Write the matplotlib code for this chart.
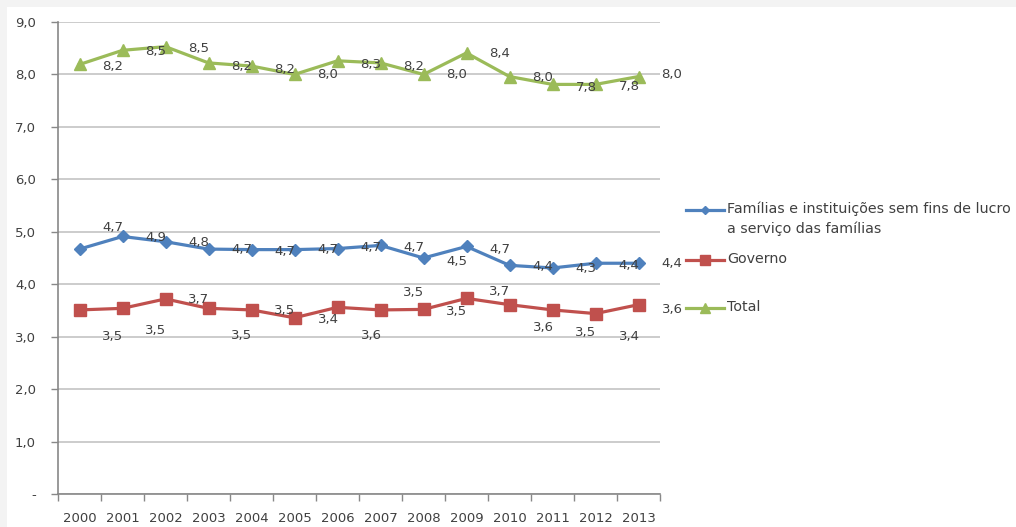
import numpy as np
import matplotlib.pyplot as plt
from matplotlib.patches import Rectangle
from matplotlib.lines import Line2D

# -------------------------------
# Dados
# -------------------------------
anos = ["2000", "2001", "2002", "2003", "2004", "2005", "2006",
        "2007", "2008", "2009", "2010", "2011", "2012", "2013"]

familias = [4.67, 4.91, 4.81, 4.67, 4.66, 4.66, 4.68, 4.74, 4.50, 4.72, 4.36, 4.31, 4.40, 4.40]
governo = [3.51, 3.54, 3.72, 3.54, 3.51, 3.36, 3.56, 3.51, 3.52, 3.73, 3.61, 3.51, 3.44, 3.61]
total = [8.19, 8.46, 8.53, 8.22, 8.16, 8.00, 8.26, 8.22, 8.00, 8.41, 7.96, 7.81, 7.81, 7.96]

nomes = ["Famílias e instituições sem fins de lucro\na serviço das famílias",
         "Governo", "Total"]

# deslocamento vertical dos rótulos (pixels, + para baixo), como no gráfico original
off_fam = [-20, 0, 0, 2, 4, 2, 0, 0, 4, 2, 3, 0, 2, 0]
off_gov = [26, 20, 0, 25, 0, 4, 30, -18, 1, -8, 22, 22, 21, 4]
off_tot = [3, 3, 0, 3, 6, 0, 6, 3, 0, 0, 3, 3, 2, 0]

AZUL = "#4F81BD"
VERMELHO = "#C0504D"
VERDE = "#9BBB59"
TXT = "#404040"
FS = 9.5

plt.rcParams["font.family"] = ["DejaVu Sans"]

W, H = 1016, 527
fig = plt.figure(figsize=(W / 100, H / 100), dpi=100)
fig.patch.set_facecolor("#f3f3f3")
fig.patches.append(Rectangle((7 / W, 0), 1, 1 - 7 / H, transform=fig.transFigure,
                             facecolor="white", edgecolor="none", zorder=-1))

ax = fig.add_axes([58 / W, 33 / H, 602 / W, 472 / H])
ax.set_facecolor("none")

x = np.arange(len(anos))
series = [
    (familias, AZUL, "D", 6, off_fam),
    (governo, VERMELHO, "s", 9, off_gov),
    (total, VERDE, "^", 9, off_tot),
]

for vals, cor, mk, ms, offs in series:
    ax.plot(x, vals, color=cor, lw=2.3, marker=mk, markersize=ms,
            markeredgecolor=cor, zorder=3)
    # rótulos deslocados para a categoria seguinte (como na figura original)
    for i, v in enumerate(vals):
        ax.annotate(f"{v:.1f}".replace(".", ","), (i + 0.78, round(v, 1)),
                    xytext=(0, -offs[i] * 0.72), textcoords="offset points",
                    ha="center", va="center", fontsize=FS, color=TXT,
                    annotation_clip=False, zorder=4)

ax.set_xlim(-0.5, len(anos) - 0.5)
ax.set_ylim(0, 9)
ax.set_yticks(np.arange(0, 10, 1))
ax.set_yticklabels(["-"] + [f"{v:.1f}".replace(".", ",") for v in range(1, 10)])
ax.set_xticks(x)
ax.set_xticklabels(anos)
ax.set_xticks(np.arange(-0.5, len(anos), 1), minor=True)

ax.grid(axis="y", color="#c8c8c8", lw=1.3, zorder=0)
ax.tick_params(axis="x", which="major", length=0, pad=13, labelsize=FS, labelcolor=TXT)
ax.tick_params(axis="x", which="minor", length=5, color="#888888", width=1)
ax.tick_params(axis="y", length=5, color="#888888", width=1, pad=11,
               labelsize=FS, labelcolor=TXT)

for s in ["top", "right"]:
    ax.spines[s].set_visible(False)
for s in ["left", "bottom"]:
    ax.spines[s].set_color("#888888")
    ax.spines[s].set_linewidth(1.2)

# legenda desenhada à mão (marcador alinhado com a primeira linha do texto)
leg_y = [210, 260, 308]
for (vals, cor, mk, ms, offs), nome, yy in zip(series, nomes, leg_y):
    yf = 1 - yy / H
    fig.add_artist(Line2D([686 / W, 724 / W], [yf, yf], transform=fig.transFigure,
                          color=cor, lw=2.3))
    fig.add_artist(Line2D([705 / W], [yf], transform=fig.transFigure, color=cor,
                          marker=mk, markersize=ms * 0.75, markeredgecolor=cor))
    fig.text(727 / W, 1 - (yy - 8) / H, nome, ha="left", va="top", fontsize=10.3,
             color=TXT, linespacing=1.4)

fig.savefig("out.png", dpi=100, facecolor=fig.get_facecolor())
